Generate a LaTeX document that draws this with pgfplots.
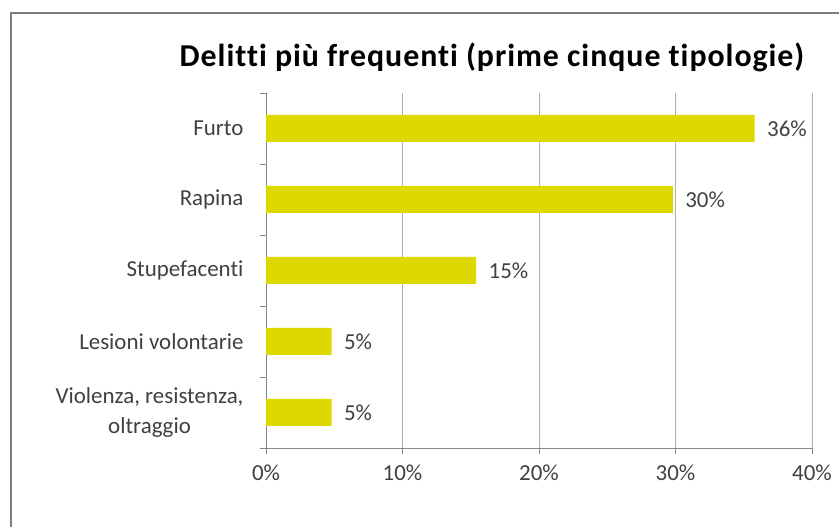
\documentclass[border=0pt]{standalone}
\usepackage{fontspec}
\setmainfont[Ligatures={NoCommon}]{Carlito}
\usepackage{pgfplots}
\pgfplotsset{compat=1.18}
\definecolor{baryellow}{RGB}{221,216,0}
\definecolor{txt}{RGB}{64,64,64}
\definecolor{axgray}{RGB}{134,134,134}
\definecolor{gridgray}{RGB}{175,175,175}
\definecolor{framegray}{RGB}{125,125,125}
\begin{document}
\begin{tikzpicture}[x=1bp,y=1bp]
\useasboundingbox (0,0) rectangle (839,527);
\fill[white] (0,0) rectangle (839,527);
\draw[line width=1.6bp, framegray] (11,-5) -- (11,514) -- (845,514);
\node[font=\fontsize{32}{36}\selectfont\bfseries\addfontfeatures{LetterSpace=3}, text=black, anchor=base] at (492,460) {Delitti più frequenti (prime cinque tipologie)};
\begin{axis}[
  at={(266bp,79bp)}, anchor=south west,
  scale only axis, width=546bp, height=355bp,
  xbar, bar width=27bp,
  xmin=0, xmax=40, ymin=-0.5, ymax=4.5,
  axis x line*=bottom, axis y line*=left,
  axis line style={draw=axgray, line width=0.8bp, -},
  tick align=outside, major tick length=6bp,
  tick style={draw=axgray, line width=0.8bp},
  xtick={0,10,20,30,40},
  xticklabels={0\%,10\%,20\%,30\%,40\%},
  xmajorgrids, grid style={draw=gridgray, line width=0.8bp},
  ytick={-0.5,0.5,1.5,2.5,3.5,4.5},
  yticklabels={},
  extra y ticks={0,1,2,3,4},
  extra y tick labels={{Violenza, resistenza,\\oltraggio},Lesioni volontarie,Stupefacenti,Rapina,Furto},
  extra y tick style={tick style={draw=none}, grid=none},
  ticklabel style={font=\fontsize{23}{30}\selectfont, text=txt},
  yticklabel style={align=center, xshift=-13bp},
  xticklabel style={yshift=-7bp},
  point meta=x,
  nodes near coords={\pgfmathprintnumber[fixed,precision=0,assume math mode=true]{\pgfplotspointmeta}\%},
  nodes near coords style={font=\fontsize{23}{27}\selectfont, text=txt, anchor=west, xshift=9bp},
]
\addplot[fill=baryellow, draw=none] coordinates {(35.8,4) (29.8,3) (15.4,2) (4.8,1) (4.8,0)};
\end{axis}
\end{tikzpicture}
\end{document}
